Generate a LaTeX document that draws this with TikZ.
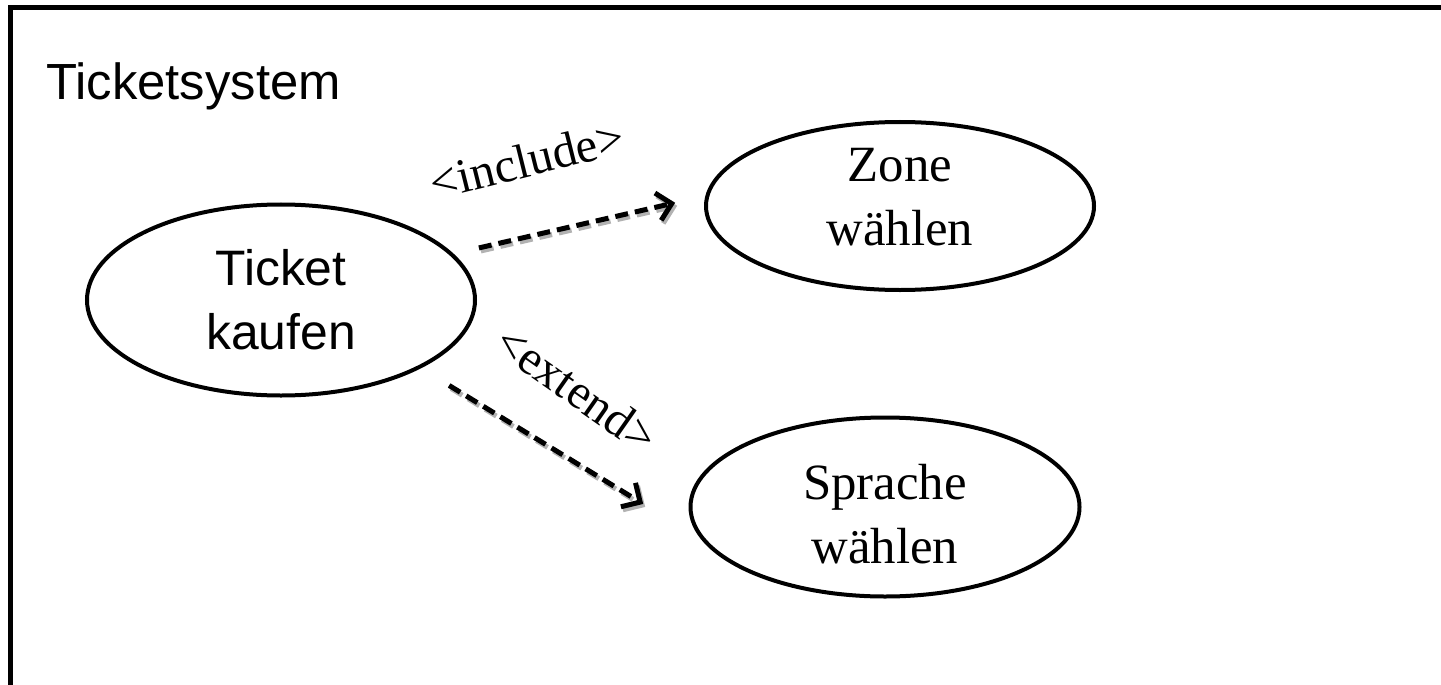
\documentclass[tikz,border=0pt]{standalone}
\usepackage{fontspec}
\setmainfont{Liberation Serif}
\newfontfamily\arialfont{Liberation Sans}
\usetikzlibrary{arrows.meta,shapes.geometric}

\begin{document}
\begin{tikzpicture}[x=1bp,y=-1bp,
  usecase/.style={ellipse,draw,line width=4bp,inner sep=0pt,align=center,
    font=\fontsize{51}{64}\selectfont},
  dep/.style={line width=5bp,dash pattern=on 13bp off 7bp,
    -{Straight Barb[length=14bp,width=28bp]}},
  depshade/.style={dep,black!30,transform canvas={shift={(2bp,-3bp)}}},
  stereo/.style={font=\fontsize{49}{49}\selectfont,inner sep=0pt}]
  \fill[white] (0,0) rectangle (1441,685);
  \useasboundingbox (0,0) rectangle (1441,685);
  % system boundary, open to the right and below
  \draw[line width=5bp] (10,685) -- (10,7.5) -- (1441,7.5);
  \node[anchor=base west,inner sep=0pt,font=\arialfont\fontsize{51}{51}\selectfont] (sys) at (46,100) {Ticketsystem};
  % use cases
  \node[usecase,minimum width=388bp,minimum height=191bp,font=\arialfont\fontsize{50}{64}\selectfont] (tk) at (281,300) {Ticket\\kaufen};
  \node[usecase,minimum width=388bp,minimum height=168bp] (zone) at (900,206) {Zone\\wählen\rule[-18pt]{0pt}{0pt}};
  \node[usecase,minimum width=389bp,minimum height=179bp] (spr) at (885,507) {\rule{0pt}{49pt}Sprache\\wählen};
  % include / extend
  \draw[depshade,shorten <=26bp,shorten >=31bp] (tk.15) -- (zone.177);
  \draw[dep,shorten <=26bp,shorten >=31bp] (tk.15) -- (zone.177);
  \draw[depshade,shorten <=33bp,shorten >=68bp] (tk.-26) -- (spr.190);
  \draw[dep,shorten <=33bp,shorten >=68bp] (tk.-26) -- (spr.190);
  \node[stereo,rotate=14] (inc) at (527,160) {<include>};
  \node[stereo,rotate=-35] (ext) at (577,389) {<extend>};
\end{tikzpicture}
\end{document}
